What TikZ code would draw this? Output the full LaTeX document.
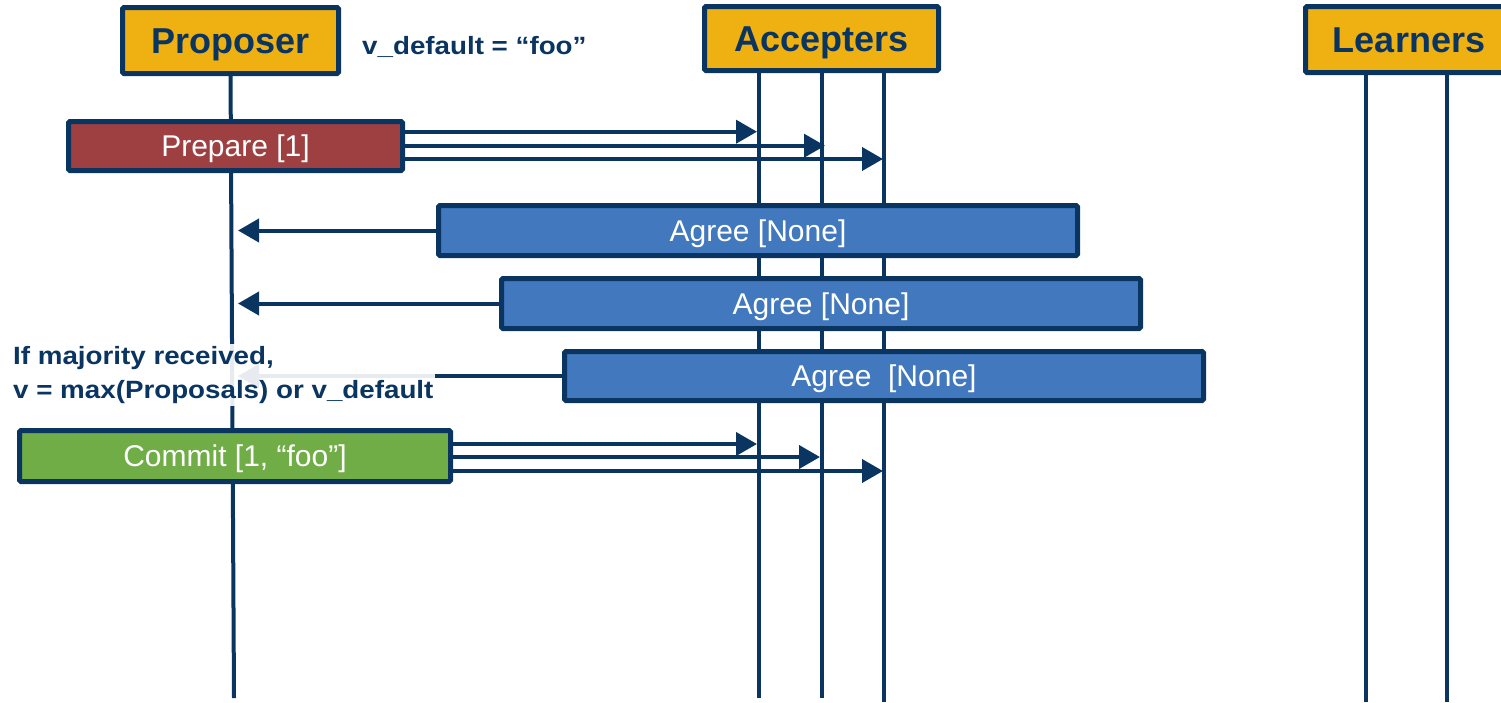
\documentclass[tikz,border=0pt]{standalone}
\usepackage{fontspec}
\setmainfont{Liberation Sans}
\newfontfamily\widefont[FakeStretch=1.11]{Liberation Sans}
\usetikzlibrary{arrows.meta}
\definecolor{navy}{HTML}{0B3561}
\definecolor{gold}{HTML}{EEB111}
\definecolor{brick}{HTML}{9E3F41}
\definecolor{steel}{HTML}{4178BE}
\definecolor{leaf}{HTML}{70AD47}
\begin{document}
\begin{tikzpicture}[x=1pt,y=-1pt,
  box/.style={draw=navy, line width=5pt, rounded corners=1.5pt, inner sep=0pt},
  head/.style={box, fill=gold, text=navy, font=\fontsize{36}{40}\selectfont\bfseries, text height=26pt, text depth=0pt},
  msg/.style={box, text=white, font=\fontsize{30}{34}\selectfont, text height=21.5pt, text depth=0pt},
  agree/.style={msg, fill=steel, minimum width=639pt, minimum height=50pt},
  life/.style={draw=navy, line width=4pt},
  arr/.style={draw=navy, line width=4pt, -{Triangle[length=21pt,width=23pt]}},
  note/.style={text=navy, font=\widefont\fontsize{25}{34}\selectfont\bfseries}]
\useasboundingbox (0,0) rectangle (1501,702);

% header box positions
\coordinate (propc) at (230.5,40.5);
\coordinate (accc) at (821.5,38.5);
\coordinate (lrnc) at (1409,39.5);

% lifeline ends
\coordinate (pStart) at (230.5,70);
\coordinate (pEnd) at (234,698);
\coordinate (a1) at (759,698);
\coordinate (a2) at (822,698);
\coordinate (a3) at (884,702);
\coordinate (l1) at (1366,702);
\coordinate (l2) at (1447,702);
\coordinate (aTop) at (821.5,68);
\coordinate (lTop) at (1409,70);

\draw[life] (pStart) -- (pEnd);
\draw[life] (aTop -| a1) -- (a1);
\draw[life] (aTop -| a2) -- (a2);
\draw[life] (aTop -| a3) -- (a3);
\draw[life] (lTop -| l1) -- (l1);
\draw[life] (lTop -| l2) -- (l2);

% header boxes
\node[head, minimum width=216pt, minimum height=66pt] (prop) at (propc) {Proposer};
\node[head, minimum width=234pt, minimum height=64pt] (acc) at (accc) {Accepters};
\node[head, minimum width=207pt, minimum height=66pt] (lrn) at (lrnc) {Learners};
\node[note, anchor=base west, inner sep=0pt] (vdef) at (362,54) {v\_default = “foo”};

% message boxes
\node[msg, fill=brick, minimum width=334pt, minimum height=49pt] (prep) at (235.5,146) {Prepare [1]};
\node[agree] (ag1) at (758,230.5) {Agree [None]};
\node[agree] (ag2) at (821,303.5) {Agree [None]};
\node[agree, minimum height=49pt] (ag3) at (884,376) {Agree\ \ [None]};
\node[msg, fill=leaf, minimum width=431pt, minimum height=51pt] (com) at (235,456) {Commit [1, “foo”]};

% arrow tips
\coordinate (t1) at (757,131.7);
\coordinate (t2) at (825,145.7);
\coordinate (t3) at (883,159);
\coordinate (r1) at (238,230.5);
\coordinate (r2) at (238,303.5);
\coordinate (r3) at (238,376);
\coordinate (c1) at (757,444);
\coordinate (c2) at (820,457);
\coordinate (c3) at (883,471);

\draw[arr] (prep.east |- t1) -- (t1);
\draw[arr] (prep.east |- t2) -- (t2);
\draw[arr] (prep.east |- t3) -- (t3);
\draw[arr] (ag1.west) -- (r1);
\draw[arr] (ag2.west) -- (r2);
\draw[arr] (ag3.west) -- (r3);
\draw[arr] (com.east |- c1) -- (c1);
\draw[arr] (com.east |- c2) -- (c2);
\draw[arr] (com.east |- c3) -- (c3);

\node[note, align=left, anchor=north west, inner sep=2pt, fill=white, fill opacity=0.9, text opacity=1] (maj) at (11,344)
  {If majority received,\\ v = max(Proposals) or v\_default};
\end{tikzpicture}
\end{document}
